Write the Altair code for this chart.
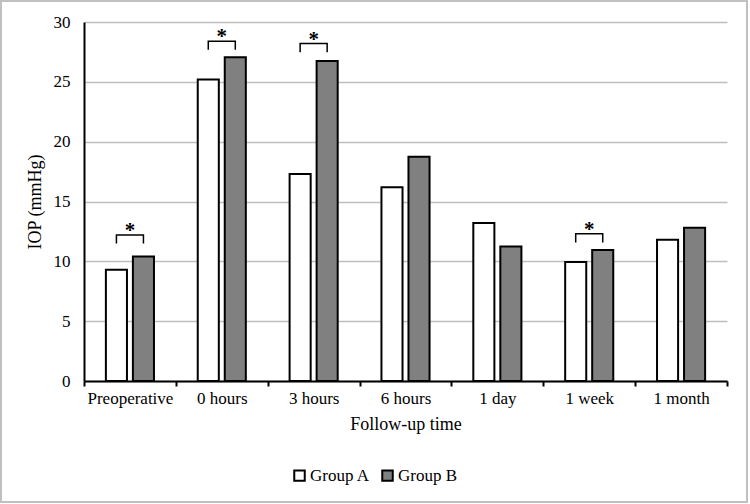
import altair as alt
import pandas as pd

categories = ["Preoperative", "0 hours", "3 hours", "6 hours", "1 day", "1 week", "1 month"]
group_a = [9.3, 25.2, 17.3, 16.2, 13.2, 9.95, 11.8]
group_b = [10.4, 27.05, 26.75, 18.75, 11.25, 10.95, 12.8]
groups = ["Group A", "Group B"]

sig_categories = ["Preoperative", "0 hours", "3 hours", "1 week"]
bracket_top = [12.2, 28.4, 28.2, 12.3]
bracket_leg = 0.72

FONT = "Liberation Serif"

rows = []
for c, a, b in zip(categories, group_a, group_b):
    rows.append({"cat": c, "group": "Group A", "iop": a})
    rows.append({"cat": c, "group": "Group B", "iop": b})
bars_df = pd.DataFrame(rows)

br_rows = []
for c, t in zip(sig_categories, bracket_top):
    br_rows.append({"cat": c, "group": "Group A", "y": t - bracket_leg, "o": 0})
    br_rows.append({"cat": c, "group": "Group A", "y": t, "o": 1})
    br_rows.append({"cat": c, "group": "Group B", "y": t, "o": 2})
    br_rows.append({"cat": c, "group": "Group B", "y": t - bracket_leg, "o": 3})
br_df = pd.DataFrame(br_rows)
star_df = pd.DataFrame({"cat": sig_categories, "y": bracket_top, "s": ["*"] * len(sig_categories)})

x_enc = alt.X("cat:N", sort=categories, title="Follow-up time",
              scale=alt.Scale(paddingInner=0, paddingOuter=0),
              axis=alt.Axis(labelAngle=0, tickBand="extent", tickSize=5, tickColor="black",
                            tickWidth=2, domainColor="black", domainWidth=2, grid=False,
                            labelFont=FONT, labelFontSize=17, labelColor="black",
                            labelPadding=4, titleFont=FONT, titleFontSize=18,
                            titleFontWeight="normal", titleColor="black", titlePadding=9))
y_scale = alt.Scale(domain=[0, 30], nice=False)
y_axis = alt.Axis(values=[0, 5, 10, 15, 20, 25, 30], grid=True, gridColor="#bfbfbf", gridWidth=1.5,
                  ticks=False, tickSize=0, domainColor="black", domainWidth=2,
                  labelFont=FONT, labelFontSize=17, labelColor="black", labelPadding=14,
                  titleFont=FONT, titleFontSize=18, titleFontWeight="normal", titleColor="black",
                  titlePadding=9)
xoff = alt.XOffset("group:N", sort=groups,
                   scale=alt.Scale(paddingInner=0.22, paddingOuter=0.81))

bars = alt.Chart(bars_df).mark_bar(stroke="black", strokeWidth=2).encode(
    x=x_enc,
    xOffset=xoff,
    y=alt.Y("iop:Q", scale=y_scale, axis=y_axis, title="IOP (mmHg)"),
    fill=alt.Fill("group:N", sort=groups,
                  scale=alt.Scale(domain=groups, range=["white", "#808080"]),
                  legend=alt.Legend(title=None, orient="none", direction="horizontal",
                                    legendX=207, legendY=445, symbolType="square",
                                    symbolSize=110, symbolStrokeColor="black",
                                    symbolStrokeWidth=2, labelFont=FONT, labelFontSize=17,
                                    labelColor="black", columnPadding=8, labelOffset=2)),
)

brackets = alt.Chart(br_df).mark_line(color="black", strokeWidth=1.5).encode(
    x=alt.X("cat:N", sort=categories),
    xOffset=alt.XOffset("group:N", sort=groups),
    y=alt.Y("y:Q"),
    detail="cat:N",
    order="o:Q",
)

stars = alt.Chart(star_df).mark_text(font=FONT, fontSize=21, fontWeight="bold", color="black",
                                     baseline="alphabetic", dy=2).encode(
    x=alt.X("cat:N", sort=categories),
    y=alt.Y("y:Q"),
    text="s:N",
)

border = alt.Chart(pd.DataFrame({"k": [0]})).mark_rect(
    fill=None, stroke="#c0c0c0", strokeWidth=2).encode(
    x=alt.value(-83), x2=alt.value(663), y=alt.value(-21), y2=alt.value(480))

chart = alt.layer(bars, brackets, stars, border).properties(
    width=643, height=359, padding=0, background="white"
).configure_view(stroke=None)

chart.save("out.html", embed_options={"renderer": "svg", "actions": False})
